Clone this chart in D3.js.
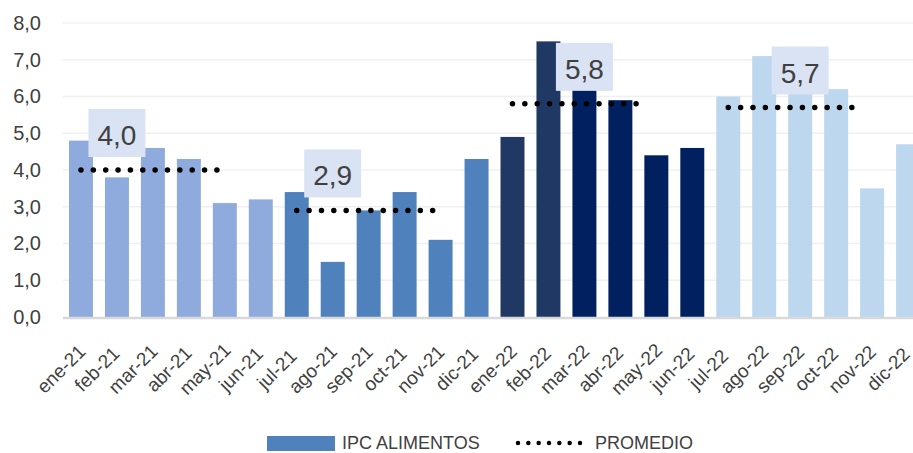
<!DOCTYPE html>
<html>
<head>
<meta charset="utf-8">
<script src="https://cdn.jsdelivr.net/npm/d3@7"></script>
<style>
  body { margin: 0; background: #fff; }
  svg { display: block; overflow: hidden; }
  text { font-family: "Liberation Sans", Arial, sans-serif; fill: #404040; }
</style>
</head>
<body>
<div id="chart"></div>
<script>
// Monthly values (IPC alimentos)
const months = ["ene-21","feb-21","mar-21","abr-21","may-21","jun-21",
                "jul-21","ago-21","sep-21","oct-21","nov-21","dic-21",
                "ene-22","feb-22","mar-22","abr-22","may-22","jun-22",
                "jul-22","ago-22","sep-22","oct-22","nov-22","dic-22"];
const ipcValues = [4.8, 3.8, 4.6, 4.3, 3.1, 3.2,
                   3.4, 1.5, 2.9, 3.4, 2.1, 4.3,
                   4.9, 7.5, 7.3, 5.9, 4.4, 4.6,
                   6.0, 7.1, 6.7, 6.2, 3.5, 4.7];

// Semester averages
const periodStart = ["ene-21", "jul-21", "ene-22", "jul-22"];
const periodLabelAt = ["feb-21", "ago-21", "mar-22", "sep-22"];
const periodAverage = [4.0, 2.9, 5.8, 5.7];

const yTicks = [0, 1, 2, 3, 4, 5, 6, 7, 8];

const fmt = v => d3.format(".1f")(v).replace(".", ",");

const W = 913, H = 453;
const plotLeft = 63, plotTop = 23, plotBottom = 317;

const svg = d3.select("#chart")
  .append("svg")
  .attr("width", W)
  .attr("height", H);

// band scale runs a little past the right edge (last bar is clipped)
const x = d3.scaleBand()
  .domain(months)
  .range([plotLeft, plotLeft + months.length * 35.96])
  .paddingInner(1 / 3)
  .paddingOuter(1 / 6);

const y = d3.scaleLinear()
  .domain([0, 8])
  .range([plotBottom, plotTop]);

// bar colours by period
function barColor(i) {
  if (i < 6) return "#8faadc";
  if (i < 12) return "#4f81bd";
  if (i < 14) return "#203864";
  if (i < 18) return "#002060";
  return "#bdd7ee";
}

// gridlines
svg.append("g")
  .selectAll("line")
  .data(yTicks.filter(d => d > 0))
  .enter()
  .append("line")
  .attr("x1", plotLeft)
  .attr("x2", W)
  .attr("y1", d => y(d))
  .attr("y2", d => y(d))
  .attr("stroke", "#f0f0f0")
  .attr("stroke-width", 1.5);

// y axis labels
const yAxis = svg.append("g")
  .attr("transform", `translate(${plotLeft},0)`)
  .call(d3.axisLeft(y).tickValues(yTicks).tickFormat(fmt).tickSize(0).tickPadding(22));
yAxis.select(".domain").remove();
yAxis.selectAll("text")
  .style("font-size", "20px")
  .style("font-family", "Liberation Sans, Arial, sans-serif")
  .attr("fill", "#404040");

// bars
svg.append("g")
  .selectAll("rect")
  .data(ipcValues)
  .enter()
  .append("rect")
  .attr("x", (d, i) => x(months[i]))
  .attr("y", d => y(d))
  .attr("width", x.bandwidth())
  .attr("height", d => y(0) - y(d))
  .attr("fill", (d, i) => barColor(i));

// baseline
svg.append("line")
  .attr("x1", plotLeft)
  .attr("x2", W)
  .attr("y1", y(0) + 1)
  .attr("y2", y(0) + 1)
  .attr("stroke", "#d9d9d9")
  .attr("stroke-width", 2.5);

// x axis labels, rotated around their middle
months.forEach((m, i) => {
  const xc = x(m) + x.bandwidth() / 2;
  svg.append("text")
    .attr("transform", `translate(${xc - 20},${plotBottom + 52}) rotate(-45)`)
    .attr("dy", "0.35em")
    .style("text-anchor", "middle")
    .style("font-size", "19px")
    .text(m);
});

// average dotted lines + label boxes
const step = x.step();
periodStart.forEach((m, i) => {
  const x1 = x(m) + x.bandwidth() / 2;
  const yy = y(periodAverage[i]);
  svg.append("line")
    .attr("x1", x1)
    .attr("x2", x1 + step * 3.78)
    .attr("y1", yy)
    .attr("y2", yy)
    .attr("stroke", "#000")
    .attr("stroke-width", 5.5)
    .attr("stroke-linecap", "round")
    .attr("stroke-dasharray", `0 ${step * 3.78 / 11}`);

  const bx = x(periodLabelAt[i]) + x.bandwidth() / 2;
  const boxW = 57, boxH = 48;
  const boxBottom = yy - 13;
  svg.append("rect")
    .attr("x", bx - boxW / 2)
    .attr("y", boxBottom - boxH)
    .attr("width", boxW)
    .attr("height", boxH)
    .attr("fill", "#dae3f3");
  svg.append("text")
    .attr("x", bx)
    .attr("y", boxBottom - 12)
    .style("text-anchor", "middle")
    .style("font-size", "28px")
    .attr("fill", "#333")
    .text(fmt(periodAverage[i]));
});

// legend
const legend = svg.append("g");
legend.append("rect")
  .attr("x", 267)
  .attr("y", 436)
  .attr("width", 68)
  .attr("height", 15)
  .attr("fill", "#4f81bd");
legend.append("text")
  .attr("x", 342)
  .attr("y", 449)
  .style("font-size", "18px")
  .text("IPC ALIMENTOS");
legend.append("line")
  .attr("x1", 518)
  .attr("x2", 580)
  .attr("y1", 443)
  .attr("y2", 443)
  .attr("stroke", "#000")
  .attr("stroke-width", 4.5)
  .attr("stroke-linecap", "round")
  .attr("stroke-dasharray", `0 ${62 / 6}`);
legend.append("text")
  .attr("x", 595)
  .attr("y", 449)
  .style("font-size", "18px")
  .text("PROMEDIO");
</script>
</body>
</html>
